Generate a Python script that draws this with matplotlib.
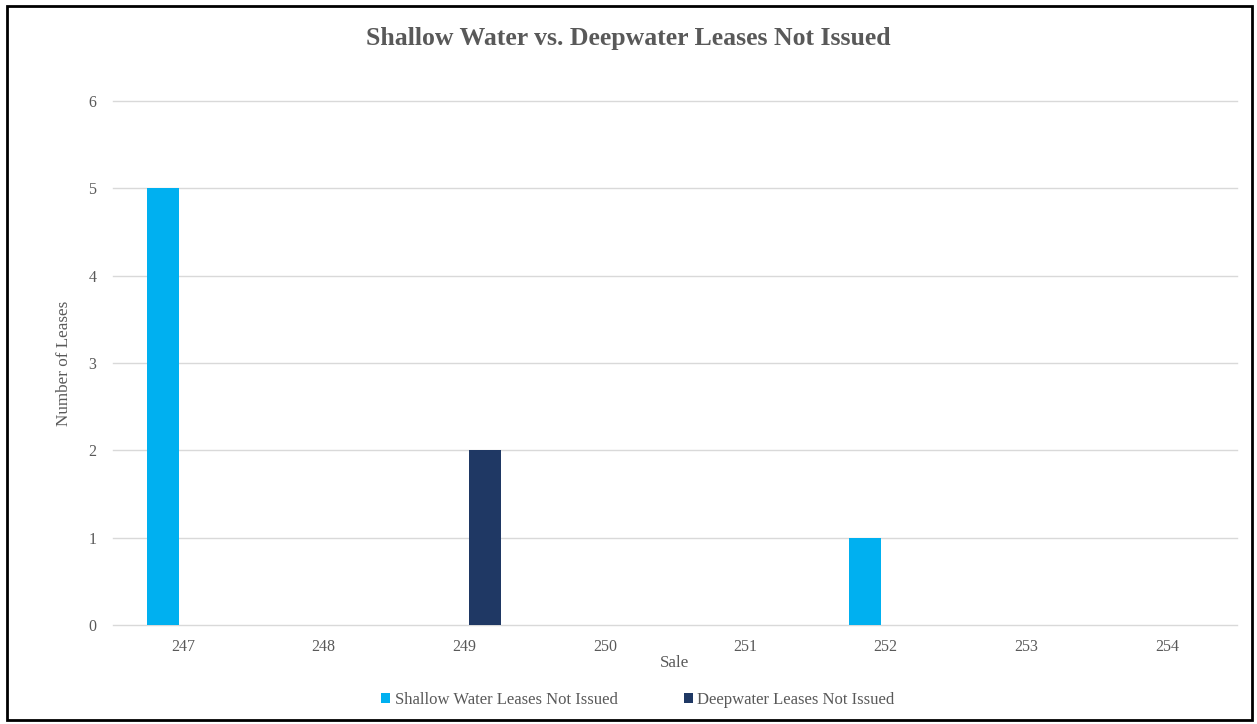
import numpy as np
import matplotlib.pyplot as plt
from matplotlib.patches import Rectangle

sales = ['247', '248', '249', '250', '251', '252', '253', '254']
shallow = [5, 0, 0, 0, 0, 1, 0, 0]
deep = [0, 0, 2, 0, 0, 0, 0, 0]

plt.rcParams['font.family'] = ['Liberation Serif', 'DejaVu Serif']
grey = '#595959'

fig = plt.figure(figsize=(12.57, 7.24), dpi=100)
ax = fig.add_axes([113/1257, 1 - 625/724, (1237-113)/1257, (625-101)/724])

x = np.arange(len(sales))
w = 0.227
ax.bar(x - 0.146, shallow, w, color='#00B0F0', label='Shallow Water Leases Not Issued', zorder=3)
ax.bar(x + 0.146, deep, w, color='#1F3864', label='Deepwater Leases Not Issued', zorder=3)

ax.set_xlim(-0.5, len(sales) - 0.5)
ax.set_ylim(0, 6)
ax.set_xticks(x)
ax.set_xticklabels(sales)
ax.set_yticks(range(7))
ax.tick_params(length=0, labelsize=11.5, labelcolor=grey)
ax.tick_params(axis='x', pad=10)
ax.tick_params(axis='y', pad=12)
ax.yaxis.grid(True, color='#D9D9D9', linewidth=1)
for gl in ax.get_ygridlines():
    gl.set_clip_on(False)
ax.set_axisbelow(True)
for s in ax.spines.values():
    s.set_visible(False)

ax.set_xlabel('Sale', fontsize=12.3, color=grey, labelpad=0)
ax.set_ylabel('Number of Leases', fontsize=12.3, color=grey, labelpad=12)

fig.text(0.5, 1 - 38/724, 'Shallow Water vs. Deepwater Leases Not Issued',
         ha='center', va='center', fontsize=18.5, fontweight='bold', color=grey)

leg = fig.legend(loc='center', bbox_to_anchor=(638/1257, 1 - 700/724), ncol=2,
                 frameon=False, fontsize=12, handlelength=0.55, handleheight=0.55,
                 handletextpad=0.25, columnspacing=4.0)
for t in leg.get_texts():
    t.set_color(grey)

fig.patches.append(Rectangle((7/1257, 4/724), 1245/1257, 714/724, transform=fig.transFigure,
                             fill=False, edgecolor='black', linewidth=2))

fig.savefig('out.png', dpi=100)
